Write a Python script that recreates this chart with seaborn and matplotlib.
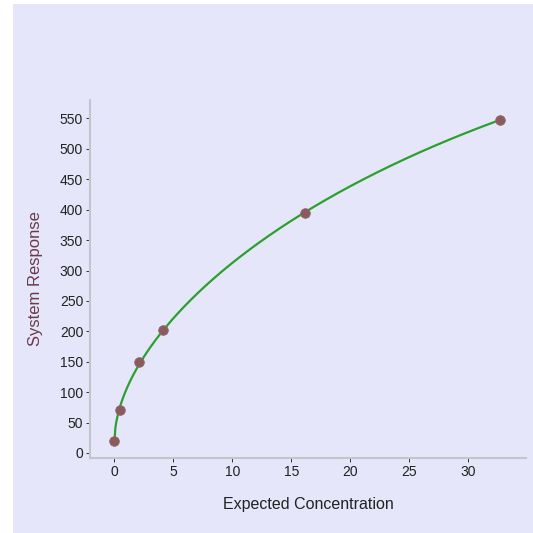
import numpy as np
import pandas as pd
import matplotlib
matplotlib.use("Agg")
import matplotlib.pyplot as plt
from matplotlib.patches import Rectangle
import seaborn as sns

# calibration points
concentration = [0.0, 0.5, 2.1, 4.1, 16.2, 32.7]
response = [20, 70, 150, 202, 395, 548]

x_ticks = [0, 5, 10, 15, 20, 25, 30]
y_ticks = [0, 50, 100, 150, 200, 250, 300, 350, 400, 450, 500, 550]

df = pd.DataFrame({"conc": concentration, "resp": response})

# smooth calibration curve: cubic fit in sqrt(concentration)
coef = np.polyfit(np.sqrt(df["conc"]), df["resp"], 3)
grid = np.linspace(df["conc"].min(), df["conc"].max(), 400)
fit = pd.DataFrame({"conc": grid, "resp": np.polyval(coef, np.sqrt(grid))})

sns.set_style("white")
plt.rcParams["font.family"] = ["Liberation Sans", "DejaVu Sans"]

fig = plt.figure(figsize=(5.33, 5.33), dpi=100)
fig.patch.set_facecolor("white")
fig.patches.append(Rectangle((13 / 533, 0), 1 - 13 / 533, 1 - 4 / 533,
                             transform=fig.transFigure, facecolor="#e6e6fa",
                             edgecolor="none", zorder=-10))

ax = fig.add_axes([0.169, 0.141, 0.818, 0.671])
ax.set_facecolor("#e6e6fa")

sns.lineplot(data=fit, x="conc", y="resp", color="#2ca02c", linewidth=1.6, ax=ax)
sns.scatterplot(data=df, x="conc", y="resp", color="#8a5a5c", s=48,
                edgecolor="#8a6a6c", linewidth=0.6, zorder=3, ax=ax)

ax.set_xlim(-2.06, 34.9)
ax.set_ylim(-8, 580)
ax.set_xticks(x_ticks)
ax.set_yticks(y_ticks)
ax.tick_params(axis="both", labelsize=10, length=3, width=0.7, color="#333333",
               labelcolor="#222222", direction="out", bottom=True, left=True,
               pad=2)

for side in ["top", "right"]:
    ax.spines[side].set_visible(False)
for side in ["left", "bottom"]:
    ax.spines[side].set_color("#c4c4cc")
    ax.spines[side].set_linewidth(1.5)

ax.set_xlabel("Expected Concentration", fontsize=11.5, color="#222222", labelpad=13)
ax.set_ylabel("System Response", fontsize=12, color="#6a3a48", labelpad=12)

fig.savefig("out.png", dpi=100)
